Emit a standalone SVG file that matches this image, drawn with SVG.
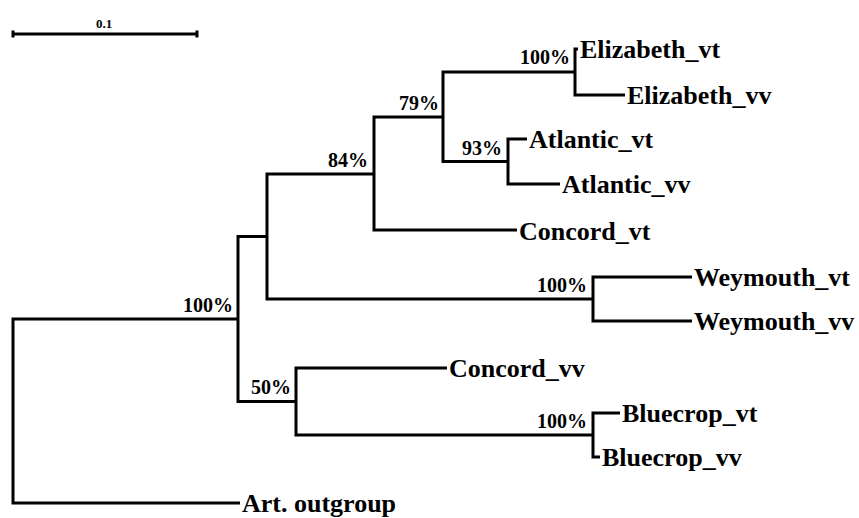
<svg xmlns="http://www.w3.org/2000/svg" width="859" height="518" viewBox="0 0 859 518">
<style>
.e{fill:none;stroke:#000;stroke-width:3;stroke-linejoin:miter;stroke-linecap:butt}
text{font-family:'Liberation Serif','Times New Roman',Times,serif;font-weight:700;fill:#000}
.leaf{font-size:26px}
.bs{font-size:20px;text-anchor:end}
.sc{font-size:13px;text-anchor:middle}
</style>
<rect width="859" height="518" fill="#fff"/>
<g id="scale">
<path class="e" d="M13,34 H197 M13,30.5 V37.5 M197,30.5 V37.5"/>
<text class="sc" x="104" y="28" font-family="Liberation Serif, serif">0.1</text>
</g>
<g id="connectors">
<path class="e" d="M238,319 H13 V503 H240"/>
<path class="e" d="M267,236.5 H238 V401.5 H296"/>
<path class="e" d="M374,174 H267 V299 H593"/>
<path class="e" d="M443,117 H374 V230 H517"/>
<path class="e" d="M575,72 H443 V161.5 H508"/>
<path class="e" d="M578,49 H575 V95 H625"/>
<path class="e" d="M527,139 H508 V184 H560"/>
<path class="e" d="M692,277 H593 V321 H692"/>
<path class="e" d="M447,368 H296 V435 H593"/>
<path class="e" d="M620,413 H593 V457 H600"/>
</g>
<g id="n_root"><text class="bs" x="233" y="312">100%</text></g>
<g id="n_50"><text class="bs" x="291" y="394">50%</text></g>
<g id="n_84"><text class="bs" x="368" y="167">84%</text></g>
<g id="n_79"><text class="bs" x="439" y="110">79%</text></g>
<g id="n_93"><text class="bs" x="502" y="155">93%</text></g>
<g id="n_eliz"><text class="bs" x="570" y="64">100%</text></g>
<g id="n_wey"><text class="bs" x="587" y="292">100%</text></g>
<g id="n_blue"><text class="bs" x="587" y="428">100%</text></g>
<g id="elizabeth_vt"><text class="leaf" x="580" y="58">Elizabeth_vt</text></g>
<g id="elizabeth_vv"><text class="leaf" x="627" y="104">Elizabeth_vv</text></g>
<g id="atlantic_vt"><text class="leaf" x="529" y="148">Atlantic_vt</text></g>
<g id="atlantic_vv"><text class="leaf" x="562" y="193">Atlantic_vv</text></g>
<g id="concord_vt"><text class="leaf" x="519" y="240">Concord_vt</text></g>
<g id="weymouth_vt"><text class="leaf" x="694" y="286">Weymouth_vt</text></g>
<g id="weymouth_vv"><text class="leaf" x="694" y="330">Weymouth_vv</text></g>
<g id="concord_vv"><text class="leaf" x="449" y="377">Concord_vv</text></g>
<g id="bluecrop_vt"><text class="leaf" x="622" y="422">Bluecrop_vt</text></g>
<g id="bluecrop_vv"><text class="leaf" x="602" y="466">Bluecrop_vv</text></g>
<g id="outgroup"><text class="leaf" x="242" y="512">Art. outgroup</text></g>
</svg>
